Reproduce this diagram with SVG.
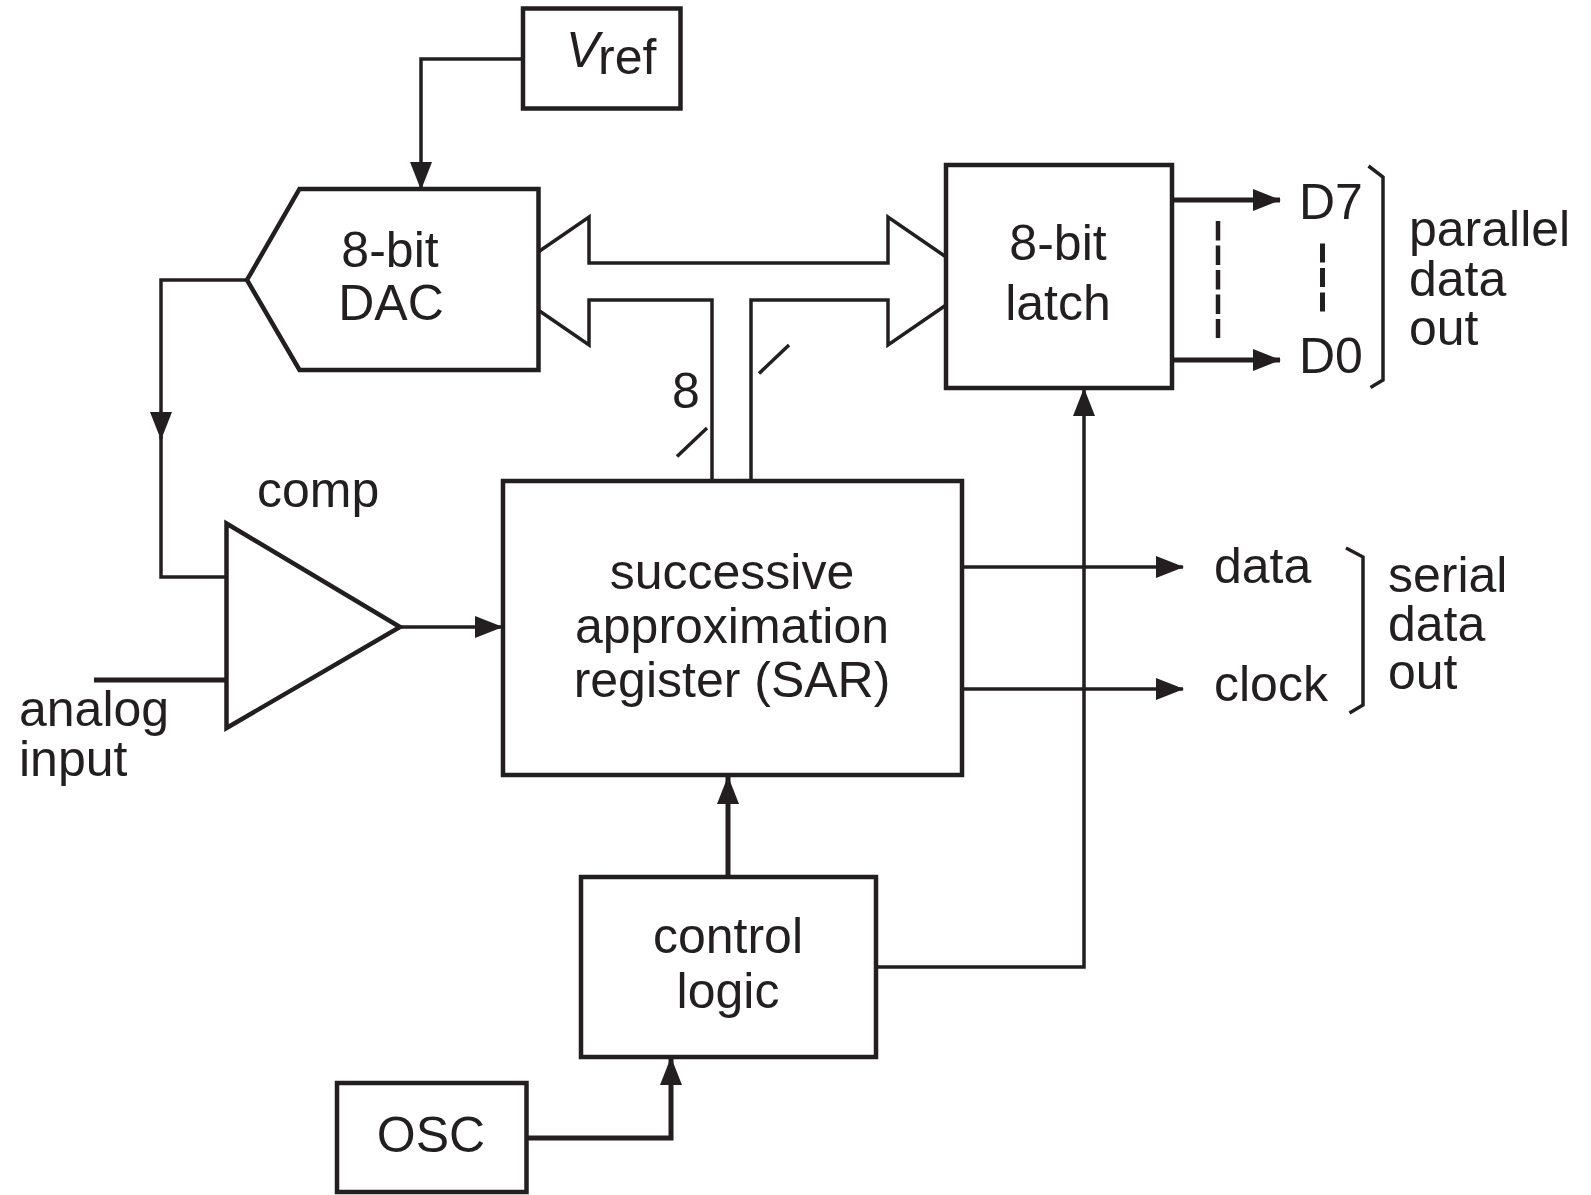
<svg xmlns="http://www.w3.org/2000/svg" width="1591" height="1195" viewBox="0 0 1591 1195">
<defs>
<style>
.box{fill:none;stroke:#231f20;stroke-width:4.5}
.ln{fill:none;stroke:#231f20;stroke-width:3.5}
.thk{fill:none;stroke:#231f20;stroke-width:5}
.t{font-family:"Liberation Sans",Arial,Helvetica,sans-serif;font-size:50px;fill:#231f20}
.c{text-anchor:middle}
</style>
<marker id="ah" markerUnits="userSpaceOnUse" markerWidth="28" markerHeight="22" refX="27" refY="11" orient="auto" viewBox="0 0 28 22">
<path d="M0,0 L28,11 L0,22 z" fill="#231f20"/>
</marker>
</defs>
<rect width="1591" height="1195" fill="#ffffff"/>

<g id="connectors">
<path class="ln" d="M523,59 H421 V189" marker-end="url(#ah)"/>
<path class="ln" d="M247,280 H161 V439" marker-end="url(#ah)"/>
<path class="ln" d="M161,436 V577 H226"/>
<path class="ln" d="M401,627 H502" marker-end="url(#ah)"/>
<path class="thk" d="M94,680 H226"/>
<path class="ln" d="M962,567 H1183" marker-end="url(#ah)"/>
<path class="ln" d="M962,689 H1183" marker-end="url(#ah)"/>
<path class="ln" d="M877,967 H1084 V389" marker-end="url(#ah)"/>
<path class="thk" d="M728,877 V777" marker-end="url(#ah)"/>
<path class="thk" d="M527,1138 H671 V1058" marker-end="url(#ah)"/>
<path class="thk" d="M1172,200 H1280" marker-end="url(#ah)"/>
<path class="thk" d="M1172,360 H1280" marker-end="url(#ah)"/>
<!-- bus -->
<path class="ln" d="M538.5,251.8 L589,217 V263 H888 V217 L945,256.3"/>
<path class="ln" d="M538.5,310.2 L589,345 V300 H712 V481"/>
<path class="ln" d="M751,481 V300 H888 V345 L945,305.7"/>
<path class="ln" d="M677,456.5 L707,428"/>
<path class="ln" d="M759,373.5 L789,345"/>
<!-- dashed -->
<path fill="none" stroke="#231f20" stroke-width="4.5" stroke-dasharray="19.5 5" d="M1218,221 V338"/>
<path fill="none" stroke="#231f20" stroke-width="5" stroke-dasharray="19 5.5" d="M1322.5,243.5 V312"/>
<!-- brackets -->
<path class="ln" stroke-width="3" d="M1368.5,166 L1383,177 V380 L1370.5,387.5"/>
<path class="ln" stroke-width="3" d="M1346,548 L1363,557 V705 L1349.5,713"/>
</g>

<g id="vref">
<rect class="box" x="523" y="8.5" width="157.5" height="100"/>
<text class="t" x="566" y="67" font-style="italic" font-size="48">V</text>
<text class="t" x="598" y="74" font-size="44">ref</text>
</g>

<g id="dac">
<polygon class="box" points="299.5,189 538.5,189 538.5,370 299.5,370 247,280"/>
<text class="t c" x="390" y="267">8-bit</text>
<text class="t c" x="391" y="320">DAC</text>
</g>

<g id="latch">
<rect class="box" x="946" y="165" width="226" height="223"/>
<text class="t c" x="1058" y="260">8-bit</text>
<text class="t c" x="1058" y="320">latch</text>
</g>

<g id="bus-width">
<text class="t c" x="686" y="408">8</text>
</g>

<g id="comp">
<polygon class="box" points="226.5,523.5 400,627 226.5,728"/>
<text class="t" x="257" y="507">comp</text>
</g>

<g id="analog-input">
<text class="t" x="19" y="726">analog</text>
<text class="t" x="19" y="776">input</text>
</g>

<g id="sar">
<rect class="box" x="503" y="481" width="459" height="294"/>
<text class="t c" x="732" y="589">successive</text>
<text class="t c" x="732" y="643">approximation</text>
<text class="t c" x="732" y="697">register (SAR)</text>
</g>

<g id="control">
<rect class="box" x="581" y="877" width="295" height="180"/>
<text class="t c" x="728" y="953">control</text>
<text class="t c" x="728" y="1008">logic</text>
</g>

<g id="osc">
<rect class="box" x="337" y="1083" width="189.5" height="109"/>
<text class="t c" x="431" y="1152">OSC</text>
</g>

<g id="parallel-out">
<text class="t" x="1299" y="219">D7</text>
<text class="t" x="1299" y="373">D0</text>
<text class="t" x="1409" y="246">parallel</text>
<text class="t" x="1409" y="296">data</text>
<text class="t" x="1409" y="345">out</text>
</g>

<g id="serial-out">
<text class="t" x="1214" y="583">data</text>
<text class="t" x="1214" y="701">clock</text>
<text class="t" x="1388" y="592">serial</text>
<text class="t" x="1388" y="641">data</text>
<text class="t" x="1388" y="689">out</text>
</g>
</svg>
